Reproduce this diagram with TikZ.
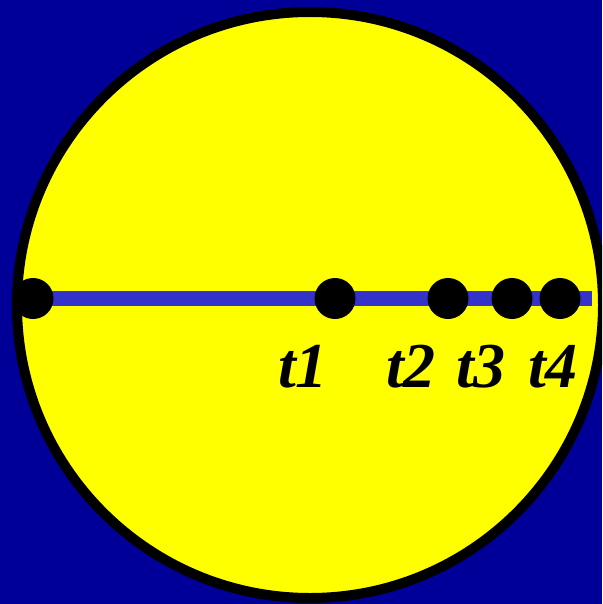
\documentclass[tikz,border=0pt]{standalone}
\usepackage{fontspec}
\setmainfont{Liberation Serif}
\definecolor{bg}{RGB}{0,0,153}
\definecolor{ax}{RGB}{51,51,204}
\definecolor{yl}{RGB}{255,255,0}
\begin{document}
\begin{tikzpicture}[x=1pt,y=-1pt,
  dot/.style={circle,fill=black,inner sep=0pt,minimum size=41pt},
  lab/.style={anchor=base,inner sep=0pt,font=\fontsize{64}{64}\selectfont\bfseries\itshape}]
\useasboundingbox (0,0) rectangle (602,604);
\begin{scope}
\clip (0,0) rectangle (602,604);
\fill[bg] (0,0) rectangle (602,604);
\draw[line width=10pt,fill=yl] (310,305) circle[radius=293];
\end{scope}
\coordinate (s) at (33,298.5);
\coordinate (e) at (592,298.5);
\draw[ax,line width=15pt] (s) -- (e);
\node[dot] (d0) at (33,298.5) {};
\node[dot] (d1) at (335,298.5) {};
\node[dot] (d2) at (448,298.5) {};
\node[dot] (d3) at (512,298.5) {};
\node[dot] (d4) at (560,298.5) {};
\node[lab] (l1) at (303,387) {t1};
\node[lab] (l2) at (411,387) {t2};
\node[lab] (l3) at (481,387) {t3};
\node[lab] (l4) at (553,387) {t4};
\end{tikzpicture}
\end{document}
